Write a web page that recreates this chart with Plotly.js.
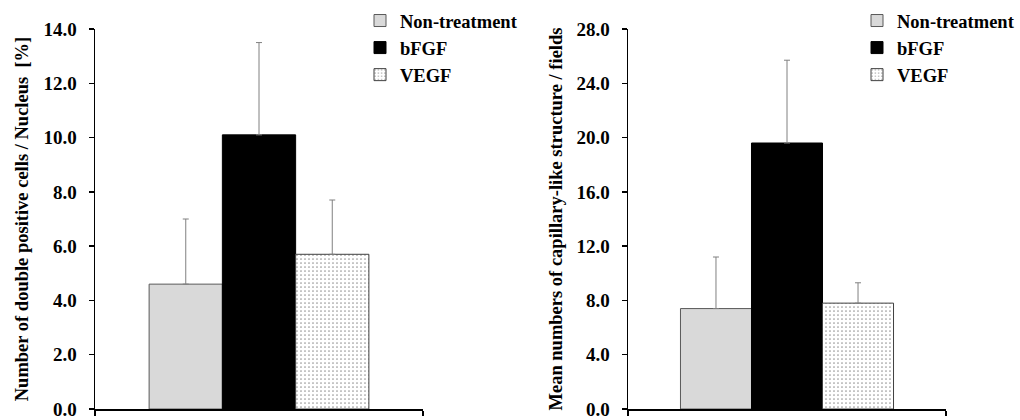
<!DOCTYPE html>
<html>
<head>
<meta charset="utf-8">
<script src="https://cdn.plot.ly/plotly-3.0.1.min.js"></script>
<style>html,body{margin:0;padding:0;background:#fff;}#chart{width:1020px;height:420px;}</style>
</head>
<body>
<div id="chart"></div>
<script>
const categories = ['Non-treatment', 'bFGF', 'VEGF'];
const leftValues = [4.6, 10.1, 5.7];
const leftErrors = [2.4, 3.4, 2.0];
const rightValues = [7.4, 19.6, 7.8];
const rightErrors = [3.8, 6.1, 1.5];
const leftTicks = [0, 2, 4, 6, 8, 10, 12, 14];
const rightTicks = [0, 4, 8, 12, 16, 20, 24, 28];
const leftTitle = 'Number of double positive cells / Nucleus  [%]';
const rightTitle = 'Mean numbers of capillary-like structure / fields';

const fontFam = 'Liberation Serif';
const styles = [
  {color: '#d9d9d9', line: {color: '#595959', width: 1}},
  {color: '#000000', line: {color: '#000000', width: 1}},
  {color: '#ffffff', line: {color: '#404040', width: 1},
   pattern: {shape: '.', fgcolor: '#999999', bgcolor: '#ffffff', size: 4, solidity: 0.15}}
];

const traces = [];
function addSet(values, errors, xa, ya, legendName) {
  categories.forEach((c, i) => {
    traces.push({
      type: 'bar', name: c, x: [' '], y: [values[i]],
      xaxis: xa, yaxis: ya, legend: legendName,
      marker: styles[i],
      error_y: {type: 'data', symmetric: false, array: [errors[i]], arrayminus: [0],
                color: '#808080', thickness: 1, width: 3},
      hoverinfo: 'skip'
    });
  });
}
addSet(leftValues, leftErrors, 'x', 'y', 'legend');
addSet(rightValues, rightErrors, 'x2', 'y2', 'legend2');

const xCommon = {
  type: 'category', range: [-0.5, 0.5], showticklabels: false,
  ticks: 'outside', tickson: 'boundaries', ticklen: 5, tickwidth: 1.5, tickcolor: '#000',
  showline: true, linecolor: '#000', linewidth: 1.5, showgrid: false, zeroline: false, fixedrange: true
};
const yCommon = {
  ticks: 'outside', ticklen: 5, tickwidth: 1.5, tickcolor: '#000',
  showline: true, linecolor: '#000', linewidth: 1.5, showgrid: false, zeroline: false,
  tickformat: '.1f', tickmode: 'array', ticklabelstandoff: 8,
  tickfont: {family: fontFam, size: 19, weight: 700, color: '#000'},
  domain: [0, 1], fixedrange: true, automargin: true
};
const titleFont = {family: fontFam, size: 18.5, weight: 700, color: '#000'};
const legendCommon = {
  font: {family: fontFam, size: 18.5, weight: 700, color: '#000'},
  bgcolor: 'rgba(0,0,0,0)', borderwidth: 0, yanchor: 'top',
  traceorder: 'normal', itemwidth: 30
};

const layout = {
  width: 1020, height: 420,
  margin: {l: 0, r: 0, t: 29, b: 11},
  paper_bgcolor: '#fff', plot_bgcolor: '#fff',
  font: {family: fontFam},
  barmode: 'group', bargap: 0.33, bargroupgap: 0,
  showlegend: true,
  xaxis: Object.assign({}, xCommon, {domain: [95/1020, 423/1020], anchor: 'y'}),
  yaxis: Object.assign({}, yCommon, {range: [0, 14], tickvals: leftTicks, anchor: 'x',
    title: {text: leftTitle, font: titleFont, standoff: 10}}),
  xaxis2: Object.assign({}, xCommon, {domain: [628/1020, 946/1020], anchor: 'y2'}),
  yaxis2: Object.assign({}, yCommon, {range: [0, 28], tickvals: rightTicks, anchor: 'x2',
    title: {text: rightTitle, font: titleFont, standoff: 9}}),
  legend: Object.assign({}, legendCommon, {x: 360/1020, xanchor: 'left', y: 1 + 27/380}),
  legend2: Object.assign({}, legendCommon, {x: 1.0, xanchor: 'right', y: 1 + 27/380})
};

Plotly.newPlot('chart', traces, layout, {displayModeBar: false, staticPlot: true});
</script>
</body>
</html>
